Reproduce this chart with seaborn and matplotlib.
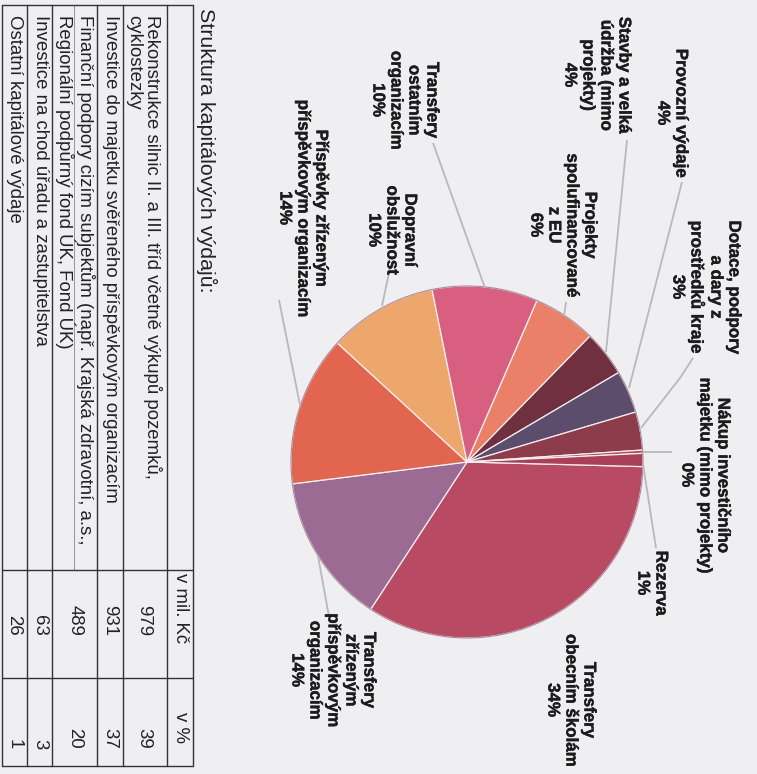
import numpy as np
import matplotlib.pyplot as plt
import matplotlib.patheffects as pe
import seaborn as sns

# ------------------------------------------ Style ------------------------------------------ #
sns.set_theme(style="white")
plt.rcParams['font.family'] = ['Liberation Sans', 'DejaVu Sans']

W, H = 757, 774
bg = "#efeff2"
line_grey = "#b9b9bd"
ink = "#1c1c1c"

# ------------------------------------------ Data ------------------------------------------ #
# slices, in drawing order (clockwise from the right edge of the scanned page)
slice_names = [
    "Transfery\nobecním školám",
    "Transfery\nzřízeným\npříspěvkovým\norganizacím",
    "Příspěvky zřízeným\npříspěvkovým organizacím",
    "Dopravní\nobslužnost",
    "Transfery\nostatním\norganizacím",
    "Projekty\nspolufinancované\nz EU",
    "Stavby a velká\núdržba (mimo\nprojekty)",
    "Provozní výdaje",
    "Dotace, podpory\na dary z\nprostředků kraje",
    "Nákup investičního\nmajetku (mimo projekty)",
    "Rezerva",
]
slice_pct = ["34%", "14%", "14%", "10%", "10%", "6%", "4%", "4%", "3%", "0%", "1%"]
slice_share = [33.8, 13.8, 13.8, 10.0, 9.7, 5.8, 4.2, 3.9, 3.5, 0.3, 1.2]
slice_colors = ["#b94a63", "#9c6b94", "#e2664f", "#eda66b", "#d95f80", "#ea8068",
                "#70303f", "#5d4d6c", "#8c3c4a", "#b84a5e", "#a84058"]

# table
title = "Struktura kapitálových výdajů:"
row_text = [
    "Rekonstrukce silnic II. a III. tříd včetně výkupů pozemků,\ncyklostezky",
    "Investice do majetku svěřeného příspěvkovým organizacím",
    "Finanční podpory cizím subjektům (např. Krajská zdravotní, a.s.,\nRegionální podpůrný fond ÚK, Fond ÚK)",
    "Investice na chod úřadu a zastupitelstva",
    "Ostatní kapitálové výdaje",
]
row_mil = [979, 931, 489, 63, 26]
row_pct = [39, 37, 20, 3, 1]
head_cols = ["v mil. Kč", "v %"]

# ------------------------------------------ Layout (page pixels) ------------------------------------------ #
pie_c = (467, 462)
pie_r = 176
label_pos = [(571, 700), (333, 670), (303, 208), (392, 230), (405, 100), (563, 225),
             (597, 75), (672, 113), (706, 287), (705, 475), (652, 583)]
leaders = [
    None,
    [(318, 556), (330, 622)],
    [(279, 300), (300, 405)],
    [(390, 268), (382, 306)],
    [(433, 143), (485, 288)],
    [(566, 302), (564, 316)],
    [(627, 140), (606, 352)],
    [(682, 182), (629, 388)],
    [(693, 358), (680, 378), (641, 428)],
    [(643, 452), (672, 452)],
    [(643, 464), (656, 548)],
]

row_x = [144, 110, 75, 40, 14]
row_lines = [2, 27, 52, 97, 123, 167, 193]
col_lines = [5, 570, 678, 766]

# ------------------------------------------ Plot ------------------------------------------ #
fig = plt.figure(figsize=(W / 100, H / 100), dpi=100, facecolor=bg)
ax = fig.add_axes([0, 0, 1, 1])
ax.set_facecolor(bg)

pal = sns.color_palette(slice_colors)
# y axis is flipped below, so counterclock in data reads clockwise on the page
ax.pie(slice_share, colors=pal, startangle=1.5, counterclock=True,
       center=pie_c, radius=pie_r,
       wedgeprops=dict(edgecolor="#f4eef0", linewidth=0.9))
circle = plt.Circle(pie_c, pie_r, fill=False, edgecolor="#a98a9a", linewidth=0.8)
ax.add_patch(circle)

heavy = [pe.withStroke(linewidth=0.3, foreground=ink)]
for name, pct, pos, ld in zip(slice_names, slice_pct, label_pos, leaders):
    ax.text(pos[0], pos[1], f"{name}\n{pct}", rotation=-90, ha='center', va='center',
            multialignment='center', fontsize=12.2, fontweight='bold', color=ink,
            linespacing=1.25, path_effects=heavy)
    if ld is not None:
        xs, ys = zip(*ld)
        ax.plot(xs, ys, color=line_grey, linewidth=1.3, solid_capstyle='butt')

# title
ax.text(207, 8, title, rotation=-90, ha='center', va='top', fontsize=15.4, color="#222222")

# table grid
for x in row_lines:
    ax.plot([x, x], [col_lines[0], col_lines[-1]], color="#333333", linewidth=1.0)
ax.plot([74, 74], [col_lines[0], col_lines[1]], color="#888888", linewidth=0.6)
for y in col_lines:
    ax.plot([row_lines[0], row_lines[-1]], [y, y], color="#333333", linewidth=1.0)

fs = 13.4
for x, txt, m, p in zip(row_x, row_text, row_mil, row_pct):
    ax.text(x, 15, txt, rotation=-90, ha='center', va='top', multialignment='left',
            fontsize=fs, color="#222222", linespacing=1.05)
    ax.text(x, 636, str(m), rotation=-90, ha='center', va='bottom', fontsize=fs, color="#222222")
    ax.text(x, 749, str(p), rotation=-90, ha='center', va='bottom', fontsize=fs, color="#222222")

ax.text(180, 608, head_cols[0], rotation=-90, ha='center', va='center', fontsize=fs, color="#222222")
ax.text(180, 728, head_cols[1], rotation=-90, ha='center', va='center', fontsize=fs, color="#222222")

ax.set_xlim(0, W)
ax.set_ylim(H, 0)
ax.set_aspect('equal')
ax.axis('off')

fig.savefig("out.png", dpi=100, facecolor=bg)
